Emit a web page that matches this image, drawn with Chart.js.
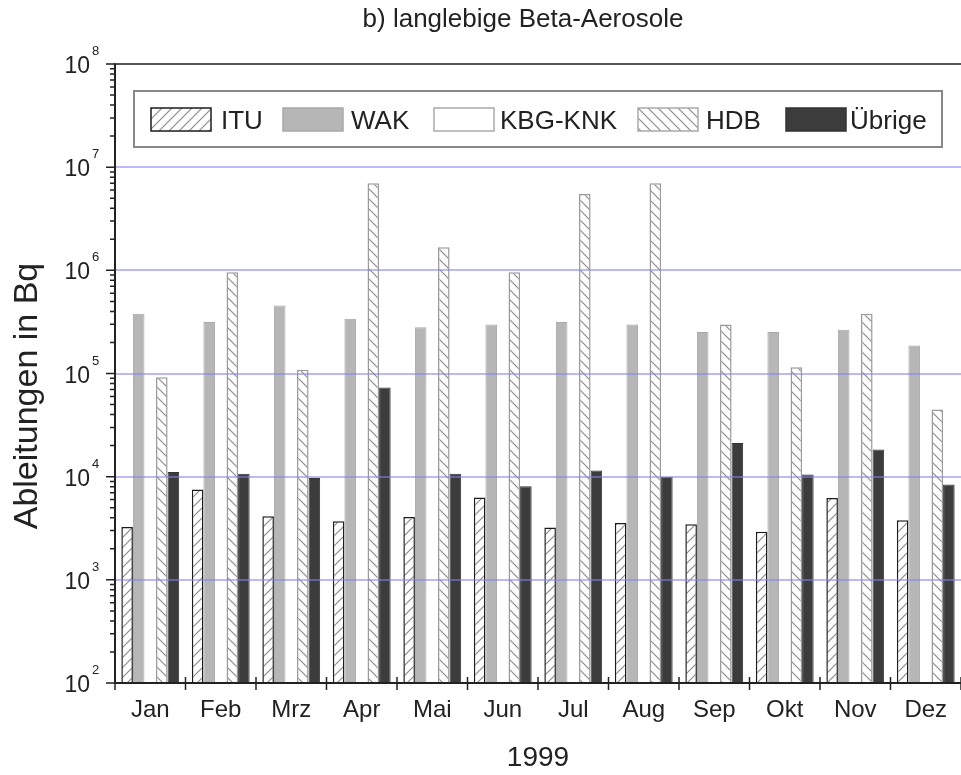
<!DOCTYPE html>
<html lang="de">
<head>
<meta charset="UTF-8">
<title>Ableitungen 1999 - langlebige Beta-Aerosole</title>
<script src="https://cdn.jsdelivr.net/npm/chart.js"></script>
<style>
  body { margin: 0; background: #fff; }
  canvas { display: block; }
</style>
</head>
<body>
<canvas id="chart" width="961" height="775"></canvas>
<script>
// Data (values in Bq)
const months = ['Jan', 'Feb', 'Mrz', 'Apr', 'Mai', 'Jun', 'Jul', 'Aug', 'Sep', 'Okt', 'Nov', 'Dez'];
const itu = [3260, 7500, 4140, 3700, 4070, 6270, 3210, 3560, 3460, 2920, 6220, 3780];
const wak = [3.8e5, 3.15e5, 4.56e5, 3.39e5, 2.81e5, 2.99e5, 3.15e5, 2.99e5, 2.52e5, 2.52e5, 2.65e5, 1.87e5];
const kbgKnk = [null, null, null, null, null, null, null, null, null, null, null, null];
const hdb = [9.2e4, 9.6e5, 1.09e5, 6.97e6, 1.67e6, 9.6e5, 5.5e6, 6.97e6, 2.99e5, 1.15e5, 3.79e5, 4.47e4];
const uebrige = [1.11e4, 1.07e4, 9720, 7.3e4, 1.07e4, 8070, 1.15e4, 1.0e4, 2.12e4, 1.05e4, 1.83e4, 8390];
const yTickExponents = [2, 3, 4, 5, 6, 7, 8];

const FONT = "'Liberation Sans', Arial, sans-serif";
const canvas = document.getElementById('chart');
const ctx = canvas.getContext('2d');

// hatch fills for ITU (/) and HDB (\)
function hatch(dir, color, size) {
    const c = document.createElement('canvas');
    c.width = size; c.height = size;
    const g = c.getContext('2d');
    g.fillStyle = '#fff';
    g.fillRect(0, 0, size, size);
    g.strokeStyle = color;
    g.lineWidth = 1.2;
    g.beginPath();
    if (dir === '/') {
        g.moveTo(0, size); g.lineTo(size, 0);
        g.moveTo(-size / 2, size / 2); g.lineTo(size / 2, -size / 2);
        g.moveTo(size / 2, size * 1.5); g.lineTo(size * 1.5, size / 2);
    } else {
        g.moveTo(0, 0); g.lineTo(size, size);
        g.moveTo(-size / 2, size / 2); g.lineTo(size / 2, size * 1.5);
        g.moveTo(size / 2, -size / 2); g.lineTo(size * 1.5, size / 2);
    }
    g.stroke();
    return ctx.createPattern(c, 'repeat');
}

// blue decade grid, drawn over the bars like in the original
const decadeGrid = {
    id: 'decadeGrid',
    afterDatasetsDraw(chart) {
        const { ctx, chartArea: a, scales: { y } } = chart;
        ctx.save();
        ctx.strokeStyle = 'rgba(130,130,235,0.55)';
        ctx.lineWidth = 2;
        ctx.beginPath();
        yTickExponents.slice(1, -1).forEach(e => {
            const py = Math.round(y.getPixelForValue(Math.pow(10, e)));
            ctx.moveTo(a.left, py); ctx.lineTo(a.right, py);
        });
        ctx.stroke();
        ctx.restore();
    }
};

// axis lines, ticks, labels, titles, frame and the boxed legend
const decorations = {
    id: 'decorations',
    afterDraw(chart) {
        const { ctx, chartArea: a, scales: { y } } = chart;
        ctx.save();
        ctx.fillStyle = '#222';

        // top frame line
        ctx.strokeStyle = '#555';
        ctx.lineWidth = 2;
        ctx.beginPath();
        ctx.moveTo(a.left, a.top);
        ctx.lineTo(a.right, a.top);
        ctx.stroke();

        // axis lines on top of the bars
        ctx.strokeStyle = '#222';
        ctx.beginPath();
        ctx.moveTo(a.left, a.top);
        ctx.lineTo(a.left, a.bottom);
        ctx.lineTo(a.right, a.bottom);
        ctx.stroke();

        // y tick marks (major + minor)
        ctx.lineWidth = 1.5;
        ctx.beginPath();
        yTickExponents.forEach(e => {
            const py = y.getPixelForValue(Math.pow(10, e));
            ctx.moveTo(a.left - 9, py); ctx.lineTo(a.left, py);
            if (e < 8) {
                for (let m = 2; m <= 9; m++) {
                    const pm = y.getPixelForValue(m * Math.pow(10, e));
                    ctx.moveTo(a.left - 5, pm); ctx.lineTo(a.left, pm);
                }
            }
        });
        ctx.stroke();

        // y tick labels 10^n
        yTickExponents.forEach(e => {
            const py = y.getPixelForValue(Math.pow(10, e));
            ctx.font = '23px ' + FONT;
            ctx.textAlign = 'right';
            ctx.textBaseline = 'alphabetic';
            ctx.fillText('10', 90, py + 9);
            ctx.font = '13px ' + FONT;
            ctx.textAlign = 'left';
            ctx.fillText(String(e), 92, py - 9);
        });

        // x tick marks at month boundaries
        const step = (a.right - a.left) / months.length;
        ctx.beginPath();
        for (let i = 0; i <= months.length; i++) {
            const px = a.left + i * step;
            ctx.moveTo(px, a.bottom - 6); ctx.lineTo(px, a.bottom + 7);
        }
        ctx.stroke();

        // chart title
        ctx.font = '26px ' + FONT;
        ctx.textAlign = 'center';
        ctx.fillText('b) langlebige Beta-Aerosole', 523, 27);

        // y axis title
        ctx.save();
        ctx.translate(37, 396);
        ctx.rotate(-Math.PI / 2);
        ctx.font = '34px ' + FONT;
        ctx.fillText('Ableitungen in Bq', 0, 0);
        ctx.restore();

        // legend box
        ctx.strokeStyle = '#888';
        ctx.lineWidth = 2;
        ctx.fillStyle = '#fff';
        ctx.fillRect(134, 91, 808, 56);
        ctx.strokeRect(134, 91, 808, 56);
        const swatchX = [151, 283, 434, 638, 786];
        const textX = [221, 351, 500, 706, 850];
        chart.data.datasets.forEach((ds, i) => {
            ctx.fillStyle = ds.legendFill || ds.backgroundColor;
            ctx.fillRect(swatchX[i], 108, 60, 23);
            ctx.strokeStyle = ds.legendBorder;
            ctx.lineWidth = 1.5;
            ctx.strokeRect(swatchX[i], 108, 60, 23);
            ctx.fillStyle = '#222';
            ctx.font = '26px ' + FONT;
            ctx.textAlign = 'left';
            ctx.fillText(ds.label, textX[i], 129);
        });
        ctx.restore();
    }
};

new Chart(ctx, {
    type: 'bar',
    data: {
        labels: months,
        datasets: [
            { label: 'ITU', data: itu, backgroundColor: hatch('/', '#8c8c8c', 10), borderColor: '#1c1c1c', borderWidth: 1.5, legendBorder: '#1c1c1c' },
            { label: 'WAK', data: wak, backgroundColor: '#b6b6b6', borderColor: '#a8a8a8', borderWidth: 1, legendBorder: '#a8a8a8' },
            { label: 'KBG-KNK', data: kbgKnk, backgroundColor: 'rgba(0,0,0,0)', borderColor: 'rgba(0,0,0,0)', borderWidth: 0, legendFill: '#fff', legendBorder: '#aaa' },
            { label: 'HDB', data: hdb, backgroundColor: hatch('\\', '#8c8c8c', 10), borderColor: '#9a9a9a', borderWidth: 1.5, legendBorder: '#aaa' },
            { label: 'Übrige', data: uebrige, backgroundColor: '#3c3c3c', borderColor: '#333', borderWidth: 1, legendBorder: '#333' }
        ]
    },
    options: {
        responsive: false,
        animation: false,
        categoryPercentage: 0.82,
        barPercentage: 1.0,
        layout: { padding: { top: 64, right: -4, left: 0, bottom: 0 } },
        plugins: {
            legend: { display: false },
            title: { display: false },
            tooltip: { enabled: false }
        },
        scales: {
            x: {
                grid: { display: false },
                border: { color: '#222', width: 2 },
                ticks: { color: '#222', font: { family: FONT, size: 24 }, padding: 5, maxRotation: 0, autoSkip: false },
                title: { display: true, text: '1999', color: '#222', font: { family: FONT, size: 28 }, padding: { top: 0, bottom: 0 } },
                afterFit(scale) { scale.height = 92; }
            },
            y: {
                type: 'logarithmic',
                min: 100,
                max: 1e8,
                grid: { display: false },
                border: { color: '#222', width: 2 },
                ticks: { display: false },
                afterFit(scale) { scale.width = 115; }
            }
        }
    },
    plugins: [decadeGrid, decorations]
});
</script>
</body>
</html>
